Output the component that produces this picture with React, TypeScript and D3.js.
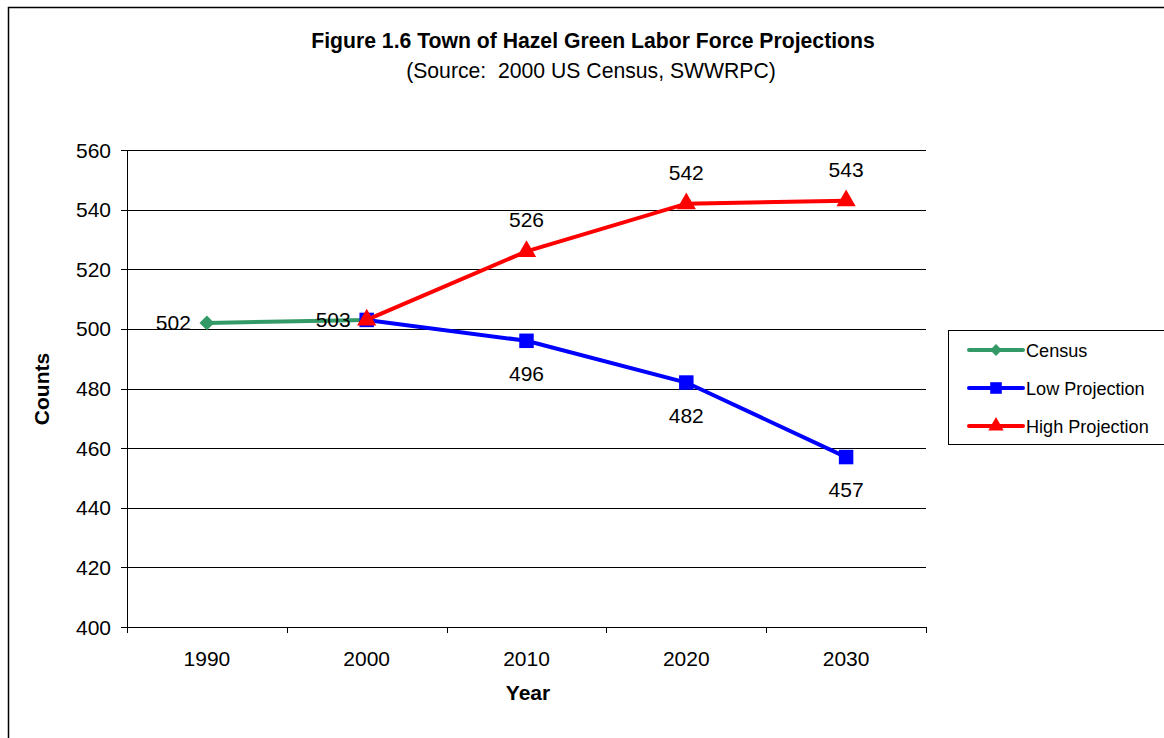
import React from 'react'
import * as d3 from 'd3'

const years = ['1990', '2000', '2010', '2020', '2030']
const census: (number | null)[] = [502, 503, null, null, null]
const lowProjection: (number | null)[] = [null, 503, 496, 482, 457]
const highProjection: (number | null)[] = [null, 503, 526, 542, 543]
const yTicks = [400, 420, 440, 460, 480, 500, 520, 540, 560]

const W = 1164
const H = 738
const font = '"Liberation Sans", Arial, sans-serif'

const x = d3.scaleBand<string>().domain(years).range([127, 926]).padding(0)
const y = d3.scaleLinear().domain([400, 560]).range([627, 150])

type Pt = { year: string; value: number }
const toPoints = (vals: (number | null)[]): Pt[] =>
  vals
    .map((v, i) => (v === null ? null : { year: years[i], value: v }))
    .filter((d): d is Pt => d !== null)

const cx = (yr: string) => (x(yr) ?? 0) + x.bandwidth() / 2

const line = d3
  .line<Pt>()
  .x((d) => cx(d.year))
  .y((d) => y(d.value))

const diamond = d3.symbol().type(d3.symbolSquare).size(110)()
const square = d3.symbol().type(d3.symbolSquare).size(210)()
const triangle = d3.symbol().type(d3.symbolTriangle).size(160)()

interface Series {
  name: string
  color: string
  values: (number | null)[]
  marker: string
  rotate: number
  label: 'left' | 'above' | 'below'
}

const series: Series[] = [
  { name: 'Census', color: '#339966', values: census, marker: diamond!, rotate: 45, label: 'left' },
  { name: 'Low Projection', color: '#0000FF', values: lowProjection, marker: square!, rotate: 0, label: 'below' },
  { name: 'High Projection', color: '#FF0000', values: highProjection, marker: triangle!, rotate: 0, label: 'above' },
]

function labelPos(s: Series, p: Pt) {
  const px = cx(p.year)
  const py = y(p.value)
  if (s.label === 'left') return { x: px - 16, y: py + 7, anchor: 'end' }
  if (s.label === 'above') return { x: px, y: py - 24, anchor: 'middle' }
  return { x: px, y: py + 40, anchor: 'middle' }
}

export default function App() {
  const legendItems = series
  return (
    <svg
      width={W}
      height={H}
      style={{ position: 'absolute', left: 0, top: 0, background: '#fff' }}
      fontFamily={font}
    >
      <rect x={0} y={0} width={W} height={H} fill="#fff" />
      {/* outer chart border */}
      <rect x={8.5} y={7.5} width={W + 20} height={H + 20} fill="none" stroke="#000" strokeWidth={1.5} />

      <text x={593} y={48} textAnchor="middle" fontSize={21.2} fontWeight="bold">
        Figure 1.6 Town of Hazel Green Labor Force Projections
      </text>
      <text x={591} y={78} textAnchor="middle" fontSize={21.2} style={{ whiteSpace: 'pre' }}>
        {'(Source:  2000 US Census, SWWRPC)'}
      </text>

      {/* gridlines */}
      {yTicks.map((t) => (
        <g key={t}>
          {t !== 400 && (
            <line x1={127} x2={926} y1={Math.round(y(t)) + 0.5} y2={Math.round(y(t)) + 0.5} stroke="#000" strokeWidth={1} />
          )}
          <line x1={121} x2={127} y1={Math.round(y(t)) + 0.5} y2={Math.round(y(t)) + 0.5} stroke="#000" />
          <text x={111} y={y(t) + 7.5} textAnchor="end" fontSize={21}>
            {t}
          </text>
        </g>
      ))}

      {/* axes */}
      <line x1={127.5} x2={127.5} y1={150} y2={633} stroke="#000" />
      <line x1={127} x2={926} y1={627.5} y2={627.5} stroke="#000" />
      {[...years.map((yr) => x(yr) ?? 0), 926].map((v, i) => (
        <line key={i} x1={Math.round(v) + 0.5} x2={Math.round(v) + 0.5} y1={627} y2={633} stroke="#000" />
      ))}
      {years.map((yr) => (
        <text key={yr} x={cx(yr)} y={666} textAnchor="middle" fontSize={21}>
          {yr}
        </text>
      ))}

      <text x={528} y={700} textAnchor="middle" fontSize={21} fontWeight="bold">
        Year
      </text>
      <text
        transform={`translate(49,389) rotate(-90)`}
        textAnchor="middle"
        fontSize={21}
        fontWeight="bold"
      >
        Counts
      </text>

      {/* series */}
      {series.map((s) => {
        const pts = toPoints(s.values)
        return (
          <g key={s.name}>
            <path d={line(pts) ?? ''} fill="none" stroke={s.color} strokeWidth={4} />
            {pts.map((p) => (
              <path
                key={p.year}
                d={s.marker}
                fill={s.color}
                transform={`translate(${cx(p.year)},${y(p.value)}) rotate(${s.rotate})`}
              />
            ))}
          </g>
        )
      })}
      {series.map((s) =>
        toPoints(s.values)
          .filter((p) => !(s.name !== 'Census' && p.year === '2000'))
          .map((p) => {
            const lp = labelPos(s, p)
            return (
              <text
                key={s.name + p.year}
                x={lp.x}
                y={lp.y}
                textAnchor={lp.anchor as 'end' | 'middle'}
                fontSize={21}
              >
                {p.value}
              </text>
            )
          }),
      )}

      {/* legend */}
      <rect x={948.5} y={330.5} width={260} height={114} fill="#fff" stroke="#000" strokeWidth={1} />
      {legendItems.map((s, i) => {
        const ly = 350 + i * 38
        return (
          <g key={s.name}>
            <line x1={969} x2={1023} y1={ly} y2={ly} stroke={s.color} strokeWidth={4} strokeLinecap="round" />
            <path d={s.marker} fill={s.color} transform={`translate(996,${ly}) rotate(${s.rotate}) scale(0.8)`} />
            <text x={1026} y={ly + 6.5} fontSize={18.1}>
              {s.name}
            </text>
          </g>
        )
      })}
    </svg>
  )
}
